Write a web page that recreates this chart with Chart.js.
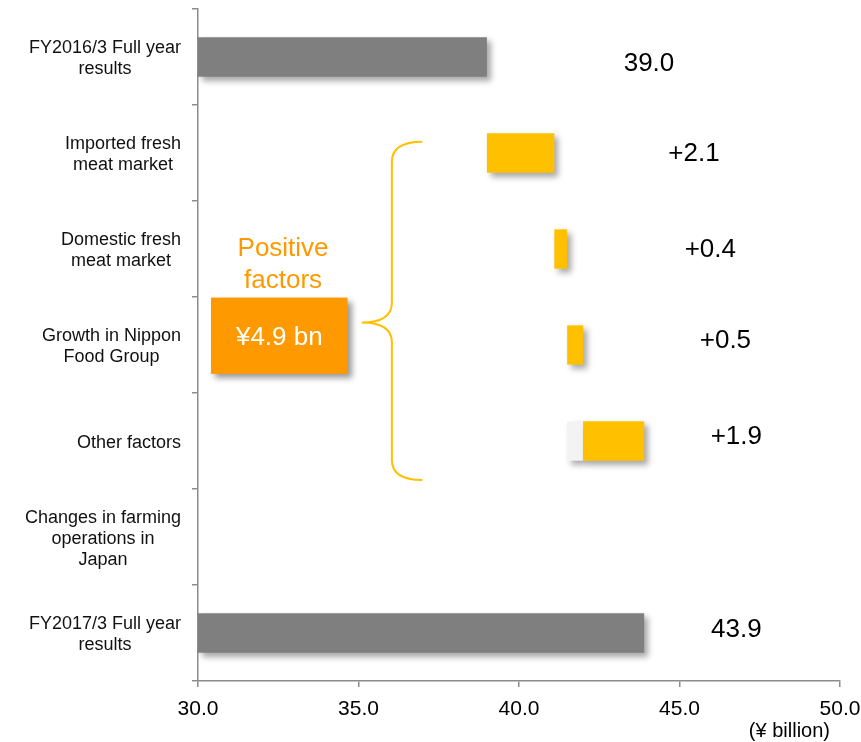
<!DOCTYPE html>
<html>
<head>
<meta charset="utf-8">
<script src="https://cdn.jsdelivr.net/npm/chart.js@4"></script>
<style>
  html, body { margin: 0; padding: 0; background: #fff; }
  canvas { display: block; }
</style>
</head>
<body>
<canvas id="chart" width="861" height="742"></canvas>
<script>
const categories = [
    ['FY2016/3 Full year', 'results'],
    ['Imported fresh', 'meat market'],
    ['Domestic fresh', 'meat market'],
    ['Growth in Nippon', 'Food Group'],
    ['Other factors'],
    ['Changes in farming', 'operations in', 'Japan'],
    ['FY2017/3 Full year', 'results']
];
const openingTotal = 39.0;
const factorChanges = [2.1, 0.4, 0.5, 1.9, null];   // farming row has no bar
const closingTotal = 43.9;
const otherFactorsGhost = [41.5, 42.0];
const axisMin = 30, axisMax = 50, axisStep = 5;

const FONT = 'Arial, "Liberation Sans", sans-serif';
const GREY = '#7f7f7f';
const YELLOW = '#FFC000';
const ORANGE = '#FF9900';
const AXIS = '#8c8c8c';

// floating bars: totals start at the axis minimum, factors stack on a running total
const round1 = v => Math.round(v * 10) / 10;
const bars = [[axisMin, openingTotal]];
const barColors = [GREY];
const valueTexts = [openingTotal.toFixed(1)];
let running = openingTotal;
factorChanges.forEach(c => {
    if (c === null) { bars.push(null); barColors.push(YELLOW); valueTexts.push(null); return; }
    bars.push([running, round1(running + c)]);
    barColors.push(YELLOW);
    valueTexts.push('+' + c.toFixed(1));
    running = round1(running + c);
});
bars.push([axisMin, closingTotal]);
barColors.push(GREY);
valueTexts.push(closingTotal.toFixed(1));

const ghostBars = categories.map((c, i) => i === 4 ? otherFactorsGhost : null);

const shadowPlugin = {
    id: 'barShadow',
    beforeDatasetDraw(chart) {
        const ctx = chart.ctx;
        ctx.save();
        ctx.shadowColor = 'rgba(0,0,0,0.35)';
        ctx.shadowBlur = 6;
        ctx.shadowOffsetX = 4;
        ctx.shadowOffsetY = 4;
    },
    afterDatasetDraw(chart) {
        chart.ctx.restore();
    }
};

const labelsPlugin = {
    id: 'labels',
    afterDraw(chart) {
        const ctx = chart.ctx;
        const x = chart.scales.x, y = chart.scales.y;

        // category labels: right-aligned blocks, lines centred within each block
        ctx.save();
        ctx.font = '18px ' + FONT;
        ctx.fillStyle = '#111';
        ctx.textBaseline = 'alphabetic';
        ctx.textAlign = 'center';
        const right = y.right - 17, lineH = 21;
        categories.forEach((lines, i) => {
            const w = Math.max(...lines.map(l => ctx.measureText(l).width));
            const cx = right - w / 2;
            const cy = y.getPixelForValue(i);
            const first = cy - (lines.length - 1) * lineH / 2 + 6.5;
            lines.forEach((l, k) => ctx.fillText(l, cx, first + k * lineH));
        });
        ctx.restore();

        // value labels beside the bars
        const spots = [[44.05, 14], [45.45, 7.5], [45.96, 8], [46.43, 3.2], [46.77, 3], null, [46.77, 4.3]];
        ctx.save();
        ctx.font = '26px ' + FONT;
        ctx.fillStyle = '#000';
        ctx.textAlign = 'center';
        ctx.textBaseline = 'alphabetic';
        valueTexts.forEach((t, i) => {
            if (!t || !spots[i]) return;
            ctx.fillText(t, x.getPixelForValue(spots[i][0]), y.getPixelForValue(i) + spots[i][1]);
        });
        ctx.restore();

        // brace grouping the positive factors
        const xe = x.getPixelForValue(36.99), xs = x.getPixelForValue(36.04), xt = x.getPixelForValue(35.1);
        const yt = y.getPixelForValue(0.883), yb = y.getPixelForValue(4.405), ym = y.getPixelForValue(2.766);
        const r = 20;
        ctx.save();
        ctx.strokeStyle = YELLOW;
        ctx.lineWidth = 2;
        ctx.beginPath();
        ctx.moveTo(xe, yt);
        ctx.quadraticCurveTo(xs, yt, xs, yt + r);
        ctx.lineTo(xs, ym - r);
        ctx.quadraticCurveTo(xs, ym, xt, ym);
        ctx.quadraticCurveTo(xs, ym, xs, ym + r);
        ctx.lineTo(xs, yb - r);
        ctx.quadraticCurveTo(xs, yb, xe, yb);
        ctx.stroke();
        ctx.restore();

        // "Positive factors" heading and total box
        ctx.save();
        ctx.font = '26px ' + FONT;
        ctx.fillStyle = ORANGE;
        ctx.textAlign = 'center';
        const hx = x.getPixelForValue(32.65);
        ctx.fillText('Positive', hx, y.getPixelForValue(2.078));
        ctx.fillText('factors', hx, y.getPixelForValue(2.407));

        const bx0 = x.getPixelForValue(30.405), bx1 = x.getPixelForValue(34.66);
        const by0 = y.getPixelForValue(2.506), by1 = y.getPixelForValue(3.301);
        ctx.shadowColor = 'rgba(0,0,0,0.4)';
        ctx.shadowBlur = 6;
        ctx.shadowOffsetX = 4;
        ctx.shadowOffsetY = 4;
        ctx.fillRect(bx0, by0, bx1 - bx0, by1 - by0);
        ctx.shadowColor = 'transparent';
        ctx.fillStyle = '#fff';
        ctx.fillText('¥' + round1(closingTotal - openingTotal).toFixed(1) + ' bn', (bx0 + bx1) / 2, (by0 + by1) / 2 + 9.5);
        ctx.restore();

        // unit note under the axis
        ctx.save();
        ctx.font = '20px ' + FONT;
        ctx.fillStyle = '#000';
        ctx.textAlign = 'right';
        ctx.fillText('(¥ billion)', x.right - 10, chart.height - 5);
        ctx.restore();
    }
};

new Chart(document.getElementById('chart').getContext('2d'), {
    type: 'bar',
    data: {
        labels: categories,
        datasets: [{
            data: bars,
            backgroundColor: barColors,
            grouped: false,
            barPercentage: 0.41,
            categoryPercentage: 1
        }, {
            data: ghostBars,
            backgroundColor: '#f3f3f3',
            grouped: false,
            barPercentage: 0.41,
            categoryPercentage: 1
        }]
    },
    options: {
        indexAxis: 'y',
        responsive: false,
        animation: false,
        layout: { padding: { top: 9, right: 21, left: 0, bottom: 0 } },
        plugins: { legend: { display: false }, tooltip: { enabled: false } },
        scales: {
            x: {
                min: axisMin,
                max: axisMax,
                ticks: {
                    stepSize: axisStep,
                    callback: v => v.toFixed(1),
                    font: { family: FONT, size: 21 },
                    color: '#000',
                    padding: 10
                },
                grid: { drawOnChartArea: false, tickLength: 6, color: AXIS, lineWidth: 1.5 },
                border: { color: AXIS, width: 1.5 },
                afterFit: s => {
                    s.height = 61;
                    s.paddingLeft = 0;
                    s.paddingRight = 0;
                }
            },
            y: {
                offset: true,
                grid: { offset: true, drawOnChartArea: false, tickLength: 6, color: AXIS, lineWidth: 1.5 },
                border: { color: AXIS, width: 1.5 },
                ticks: { display: false },
                afterFit: s => { s.width = 198; }
            }
        }
    },
    plugins: [shadowPlugin, labelsPlugin]
});
</script>
</body>
</html>
